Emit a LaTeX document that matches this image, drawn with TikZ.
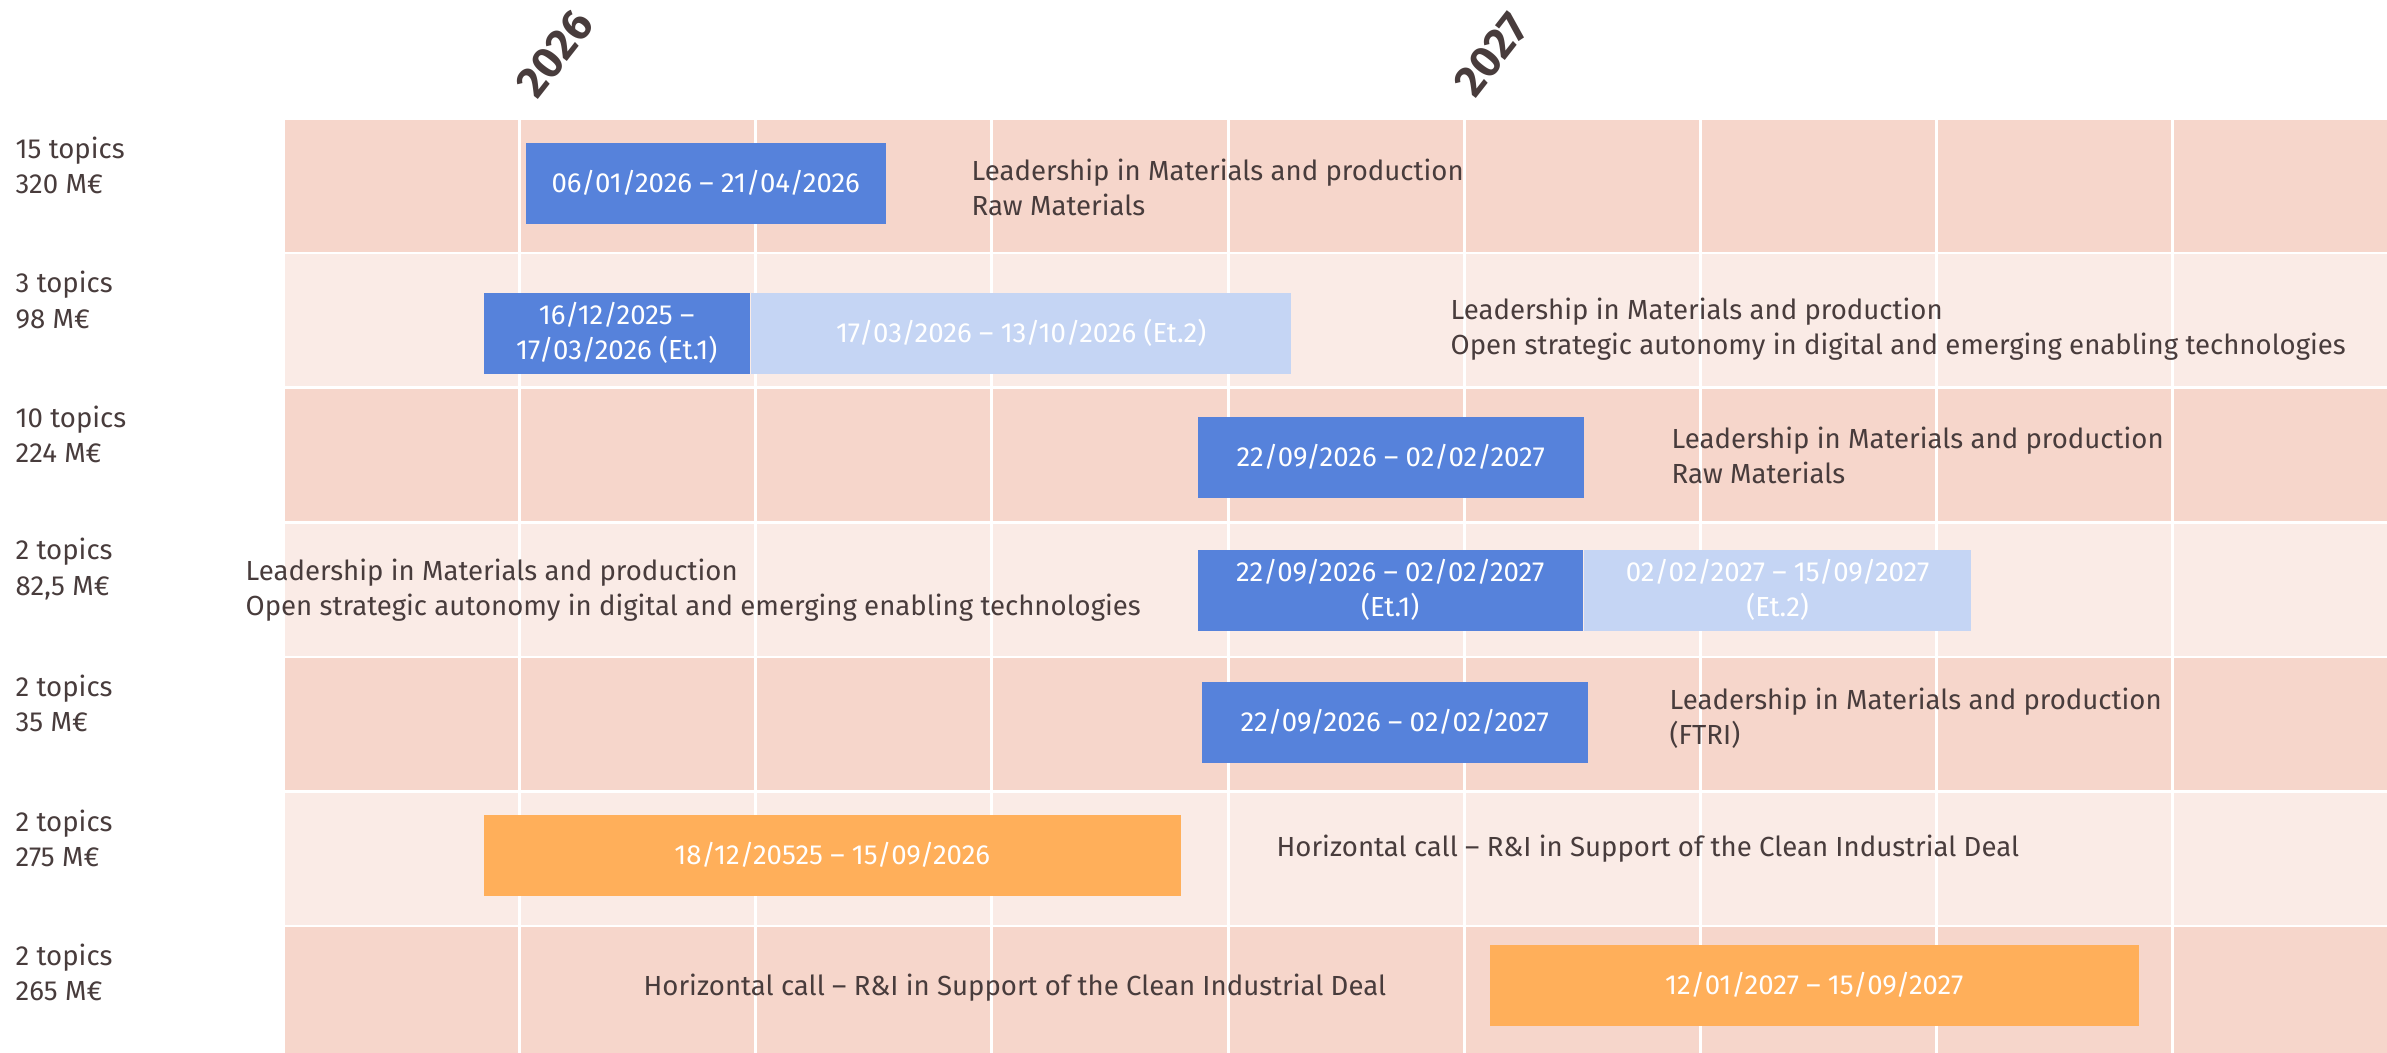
\documentclass[tikz,border=0pt]{standalone}
\usepackage{fontspec}
\setmainfont{Fira Sans}
\usetikzlibrary{positioning}
\definecolor{rowdark}{HTML}{F6D6CB}
\definecolor{rowlight}{HTML}{FAEBE6}
\definecolor{callblue}{HTML}{5682DB}
\definecolor{stageblue}{HTML}{C5D5F4}
\definecolor{callorange}{HTML}{FFAF5A}
\definecolor{txtgray}{HTML}{483C3C}
\newcommand\chartfont{\fontsize{7.85pt}{10pt}\selectfont}
\tikzset{
  gridline/.style={draw=white, line width=0.3mm},
  callbar/.style={
    rectangle,
    inner sep=0pt,
    anchor=north west,
    minimum height=8.1mm,
    text=white,
    align=center,
    font=\chartfont},
  bluebar/.style={callbar, fill=callblue},
  stagebar/.style={callbar, fill=stageblue},
  orangebar/.style={callbar, fill=callorange},
  proglabel/.style={anchor=west, inner sep=0pt, align=left, text=txtgray, font=\chartfont},
  budget/.style={proglabel},
  yearlabel/.style={anchor=south west, inner sep=0pt, rotate=52, text=txtgray,
    font=\fontsize{12.5pt}{14pt}\selectfont\bfseries},
}

\begin{document}
\begin{tikzpicture}[x=0.1mm, y=-0.1mm]
    \useasboundingbox (0,0) rectangle (2387,1053);

    %row bands
    \fill[rowdark]  (285,120)   rectangle (2387,252);
    \fill[rowlight] (285,254.5) rectangle (2387,386.5);
    \fill[rowdark]  (285,389)   rectangle (2387,521);
    \fill[rowlight] (285,523.5) rectangle (2387,655.5);
    \fill[rowdark]  (285,658)   rectangle (2387,790);
    \fill[rowlight] (285,792.5) rectangle (2387,924.5);
    \fill[rowdark]  (285,927)   rectangle (2387,1053);

    %grid
    \draw[gridline] (519,120) -- (519,1053);
    \draw[gridline] (755,120) -- (755,1053);
    \draw[gridline] (991,120) -- (991,1053);
    \draw[gridline] (1228,120) -- (1228,1053);
    \draw[gridline] (1464,120) -- (1464,1053);
    \draw[gridline] (1700,120) -- (1700,1053);
    \draw[gridline] (1936,120) -- (1936,1053);
    \draw[gridline] (2172,120) -- (2172,1053);

    %years
    \node[yearlabel] (y2026) at (538,102) {2026};
    \node[yearlabel] (y2027) at (1476,101) {2027};

    %budgets
    \node[budget] (topics1) at (15,165.5) {15 topics\\320 M€};
    \node[budget] (topics2) at (15,300)   {3 topics\\98 M€};
    \node[budget] (topics3) at (15,434.5) {10 topics\\224 M€};
    \node[budget] (topics4) at (15,569)   {2 topics\\82,5 M€};
    \node[budget] (topics5) at (15,703.5) {2 topics\\35 M€};
    \node[budget] (topics6) at (15,838)   {2 topics\\275 M€};
    \node[budget] (topics7) at (15,972.5) {2 topics\\265 M€};

    %first row
    \node[bluebar, minimum width=36mm] (date1) at (525,142) {06/01/2026 – 21/04/2026};
    \node[proglabel] (prog1) at (971,187) {Leadership in Materials and production\\Raw Materials};

    %second row
    \node[bluebar, minimum width=26.6mm] (date2a) at (483,292) {16/12/2025 –\\17/03/2026 (Et.1)};
    \node[stagebar, minimum width=54mm, anchor=west, right=0pt of date2a] (date2b) {17/03/2026 – 13/10/2026 (Et.2)};
    \node[proglabel] (prog2) at (1450,329.5) {Leadership in Materials and production\\Open strategic autonomy in digital and emerging enabling technologies};

    %third row
    \node[bluebar, minimum width=38.6mm] (date3) at (1197,416) {22/09/2026 – 02/02/2027};
    \node[proglabel] (prog3) at (1671,455) {Leadership in Materials and production\\Raw Materials};

    %fourth row
    \node[bluebar, minimum width=38.5mm] (date4a) at (1197,549) {22/09/2026 – 02/02/2027\\(Et.1)};
    \node[stagebar, minimum width=38.7mm, anchor=west, right=0pt of date4a] (date4b) {02/02/2027 – 15/09/2027\\(Et.2)};
    \node[proglabel] (prog4) at (245,590) {Leadership in Materials and production\\Open strategic autonomy in digital and emerging enabling technologies};

    %fifth row
    \node[bluebar, minimum width=38.6mm] (date5) at (1201,681) {22/09/2026 – 02/02/2027};
    \node[proglabel] (prog5) at (1669,718) {Leadership in Materials and production\\(FTRI)};

    %sixth row
    \node[orangebar, minimum width=69.7mm] (date6) at (483,814) {18/12/20525 – 15/09/2026};
    \node[proglabel] (prog6) at (1276,849) {Horizontal call – R\&I in Support of the Clean Industrial Deal};

    %seventh row
    \node[orangebar, minimum width=64.9mm] (date7) at (1489,944) {12/01/2027 – 15/09/2027};
    \node[proglabel] (prog7) at (643,988) {Horizontal call – R\&I in Support of the Clean Industrial Deal};

\end{tikzpicture}
\end{document}
